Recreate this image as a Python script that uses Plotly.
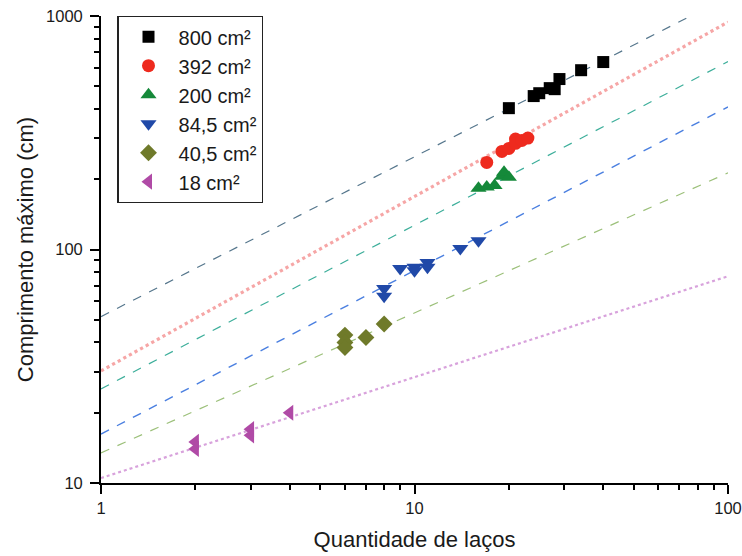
import plotly.graph_objects as go

# ---- data ----
series_names = ["800 cm²", "392 cm²", "200 cm²", "84,5 cm²", "40,5 cm²", "18 cm²"]

n_800 = [20, 24, 25, 27, 28, 29, 34, 40]
l_800 = [403, 454, 467, 491, 486, 537, 586, 635]

n_392 = [17, 19, 20, 21, 21, 22, 23]
l_392 = [236, 263, 271, 297, 285, 293, 300]

n_200 = [16, 17, 18, 19, 19.3, 20]
l_200 = [183, 185, 188, 206, 214, 204]

n_845 = [8, 8, 9, 10, 10, 11, 11, 14, 16]
l_845 = [68, 63, 83, 84, 81, 88, 84, 101, 109]

n_405 = [6, 6, 6, 7, 8]
l_405 = [43, 40, 38, 42, 48]

n_18 = [2, 2, 3, 3, 4]
l_18 = [15, 14, 17, 16, 20]

# fitted power-law lines: value at N=1 and at N=100
fit_n = [1, 100]
fit_start = [51.6, 30.2, 25.3, 16.2, 13.45, 10.5]
fit_end = [1207, 942, 638, 408, 213, 76.8]

x_major = [1, 10, 100]
y_major = [10, 100, 1000]
x_minor = [m * d for d in (1, 10) for m in range(2, 10)]
y_minor = [m * d for d in (10, 100) for m in range(2, 10)]

# ---- styles ----
marker_colors = ["#000000", "#ee2a1e", "#15893a", "#2049a8", "#6f7a2a", "#b04aa6"]
symbols = ["square", "circle", "triangle-up", "triangle-down", "diamond", "triangle-left"]
sizes = [12, 13, 14, 14, 13, 14]
line_colors = ["#55768c", "#f6a6a6", "#3cae9a", "#4a7fe0", "#9cc07a", "#d8a2dc"]
line_dash = ["dash", "dot", "dash", "dash", "dash", "dot"]
line_width = [1.2, 3.2, 1.2, 1.4, 1.2, 2.2]

xs = [n_800, n_392, n_200, n_845, n_405, n_18]
ys = [l_800, l_392, l_200, l_845, l_405, l_18]

fig = go.Figure()

for i in range(6):
    fig.add_trace(go.Scatter(
        x=fit_n, y=[fit_start[i], fit_end[i]], mode="lines",
        line=dict(color=line_colors[i], dash=line_dash[i], width=line_width[i]),
        showlegend=False, hoverinfo="skip", cliponaxis=True))

for i in range(6):
    fig.add_trace(go.Scatter(
        x=xs[i], y=ys[i], mode="markers", name=series_names[i],
        marker=dict(symbol=symbols[i], size=sizes[i], color=marker_colors[i],
                    line=dict(width=0))))

font_family = "Liberation Sans, Arial, sans-serif"

fig.update_layout(
    width=742, height=556,
    margin=dict(l=101, r=14, t=16, b=73, autoexpand=False),
    paper_bgcolor="white", plot_bgcolor="white",
    font=dict(family=font_family, color="#1a1a1a"),
    showlegend=True,
    legend=dict(
        x=0.026, y=1.0, xanchor="left", yanchor="top",
        bordercolor="#222222", borderwidth=1.2, bgcolor="white",
        font=dict(size=20, family=font_family, color="#1a1a1a"),
        itemwidth=50, tracegroupgap=0,
    ),
    xaxis=dict(
        type="log", range=[0, 2], automargin=False,
        tickmode="array", tickvals=x_major, ticktext=["1", "10", "100"],
        ticks="outside", ticklen=9, tickwidth=1.5, tickcolor="black",
        showline=True, linecolor="black", linewidth=1.8,
        showgrid=False, zeroline=False,
        tickfont=dict(size=16.5),
        minor=dict(tickmode="array", tickvals=x_minor, ticks="outside",
                   ticklen=5, tickwidth=1.5, tickcolor="black", showgrid=False),
        title=dict(text="Quantidade de laços", font=dict(size=22), standoff=16),
    ),
    yaxis=dict(
        type="log", range=[1, 3], automargin=False,
        tickmode="array", tickvals=y_major, ticktext=["10", "100", "1000"],
        ticks="outside", ticklen=9, tickwidth=1.5, tickcolor="black",
        showline=True, linecolor="black", linewidth=1.8,
        showgrid=False, zeroline=False,
        tickfont=dict(size=16.5), ticklabelstandoff=4,
        minor=dict(tickmode="array", tickvals=y_minor, ticks="outside",
                   ticklen=5, tickwidth=1.5, tickcolor="black", showgrid=False),
        title=dict(text="Comprimento máximo (cm)", font=dict(size=22), standoff=6),
    ),
)

fig.write_html("out.html")
